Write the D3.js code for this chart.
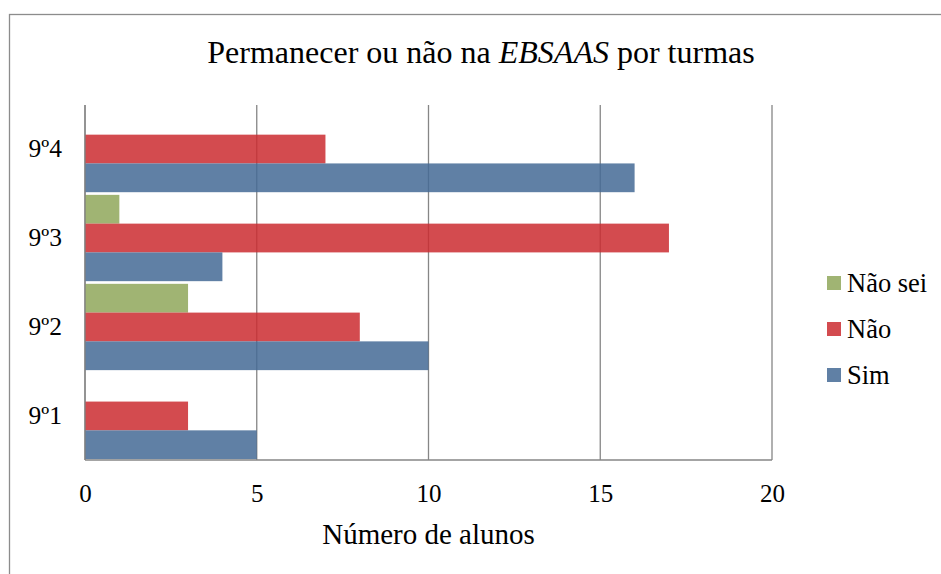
<!DOCTYPE html>
<html>
<head>
<meta charset="utf-8">
<script src="https://cdn.jsdelivr.net/npm/d3@7"></script>
<style>
    body { margin: 0; background: #fff; }
    svg text { font-family: "Liberation Serif", "Times New Roman", serif; fill: #000; }
</style>
</head>
<body>
<div id="chart"></div>
<script>
// Chart data
const categories = ["9º1", "9º2", "9º3", "9º4"];
const seriesNames = ["Não sei", "Não", "Sim"];
const simValues = [5, 10, 4, 16];
const naoValues = [3, 8, 17, 7];
const naoSeiValues = [0, 3, 1, 0];
const xTicks = [0, 5, 10, 15, 20];
const seriesColors = ["#8fa75b", "#cb2c30", "#446a95"];

const width = 941;
const height = 574;
const margin = { top: 105, right: 170, bottom: 114, left: 85 };

const valuesBySeries = {
    "Não sei": naoSeiValues,
    "Não": naoValues,
    "Sim": simValues
};

const svg = d3.select("#chart")
    .append("svg")
    .attr("width", width)
    .attr("height", height);

// Outer chart border (right and bottom edges fall outside the picture)
svg.append("rect")
    .attr("x", 9.5)
    .attr("y", 14.5)
    .attr("width", 940)
    .attr("height", 600)
    .attr("fill", "none")
    .attr("stroke", "#8c8c8c")
    .attr("stroke-width", 1.3);

const x = d3.scaleLinear()
    .domain([0, 20])
    .range([margin.left, width - margin.right + 1]);

const y = d3.scaleBand()
    .domain(categories.slice().reverse())
    .range([margin.top, height - margin.bottom])
    .paddingInner(0.03)
    .paddingOuter(0.01);

const ySub = d3.scaleBand()
    .domain(seriesNames)
    .range([0, y.bandwidth()]);

const color = d3.scaleOrdinal()
    .domain(seriesNames)
    .range(seriesColors);

// Vertical gridlines
svg.append("g")
    .selectAll("line")
    .data(xTicks)
    .enter()
    .append("line")
    .attr("x1", d => x(d))
    .attr("x2", d => x(d))
    .attr("y1", margin.top)
    .attr("y2", height - margin.bottom)
    .attr("stroke", "#868686")
    .attr("stroke-width", 1.3);

// Bars
const groups = svg.append("g")
    .selectAll("g")
    .data(categories)
    .enter()
    .append("g")
    .attr("transform", d => `translate(0,${y(d)})`);

groups.selectAll("rect")
    .data((cat, i) => seriesNames.map(s => ({ series: s, value: valuesBySeries[s][i] })))
    .enter()
    .append("rect")
    .attr("x", x(0))
    .attr("y", d => ySub(d.series))
    .attr("width", d => x(d.value) - x(0))
    .attr("height", ySub.bandwidth())
    .attr("fill", d => color(d.series))
    .attr("opacity", 0.85);

// Axis lines
svg.append("line")
    .attr("x1", x(0)).attr("x2", x(0))
    .attr("y1", margin.top).attr("y2", height - margin.bottom)
    .attr("stroke", "#868686").attr("stroke-width", 1.3);
svg.append("line")
    .attr("x1", x(0)).attr("x2", x(20))
    .attr("y1", height - margin.bottom).attr("y2", height - margin.bottom)
    .attr("stroke", "#868686").attr("stroke-width", 1.3);

// X tick labels
const xAxis = svg.append("g")
    .attr("transform", `translate(0,${height - margin.bottom})`)
    .call(d3.axisBottom(x).tickValues(xTicks).tickSize(0).tickPadding(24));
xAxis.select(".domain").remove();
xAxis.selectAll("text")
    .style("font-size", "25px")
    .style("font-family", "'Liberation Serif', serif");

// Y category labels
const yAxis = svg.append("g")
    .attr("transform", `translate(${margin.left},0)`)
    .call(d3.axisLeft(y).tickSize(0).tickPadding(23));
yAxis.select(".domain").remove();
yAxis.selectAll("text")
    .style("font-size", "25.5px")
    .style("font-family", "'Liberation Serif', serif");

// Title
const title = svg.append("text")
    .attr("x", 481)
    .attr("y", 63)
    .attr("text-anchor", "middle")
    .style("font-size", "32px");
title.append("tspan").text("Permanecer ou não na ");
title.append("tspan").style("font-style", "italic").text("EBSAAS");
title.append("tspan").text(" por turmas");

// X axis title
svg.append("text")
    .attr("x", (x(0) + x(20)) / 2)
    .attr("y", 544)
    .attr("text-anchor", "middle")
    .style("font-size", "29px")
    .text("Número de alunos");

// Legend
const legend = svg.append("g")
    .selectAll("g")
    .data(seriesNames)
    .enter()
    .append("g")
    .attr("transform", (d, i) => `translate(827,${283 + i * 46})`);

legend.append("rect")
    .attr("x", 0)
    .attr("y", -7)
    .attr("width", 14)
    .attr("height", 14)
    .attr("fill", d => color(d))
    .attr("opacity", 0.85);

legend.append("text")
    .attr("x", 20)
    .attr("y", 9)
    .style("font-size", "26.5px")
    .text(d => d);
</script>
</body>
</html>
